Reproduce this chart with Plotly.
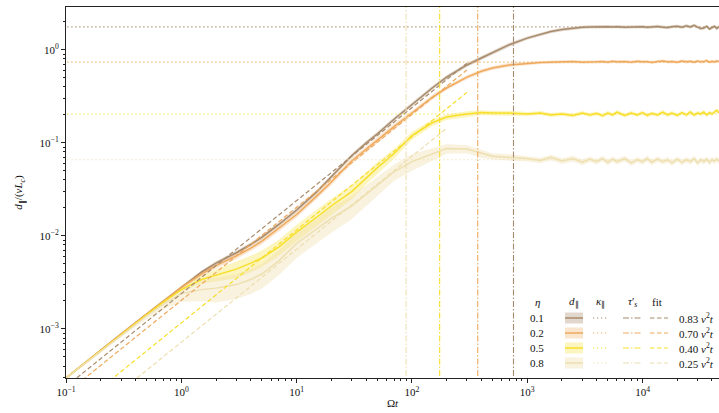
import plotly.graph_objects as go

# ---------------- data ----------------
t = [0.1, 0.15, 0.2, 0.3, 0.5, 0.7,
     1, 1.5, 2, 3, 4, 5, 7,
     10, 15, 20, 30, 40, 50, 70,
     100, 150, 200, 300, 400, 500, 700,
     1000, 1300, 1600, 2000, 2500, 3000, 3500, 4000, 4500,
     5000, 5500, 6000, 7000, 8000, 9000,
     10000, 11000, 12000, 13500, 15000, 16500, 18000,
     20000, 22000, 24000, 26000, 28000, 30000, 32000, 34000, 36000, 38000, 40000, 42000, 44000, 46000]

eta_labels = ["0.1", "0.2", "0.5", "0.8"]

d_eta01 = [2.97e-4, 4.4e-4, 5.9e-4, 8.8e-4, 1.45e-3, 2.0e-3,
           2.83e-3, 4.1e-3, 5.1e-3, 6.6e-3, 8.1e-3, 9.7e-3, 1.33e-2,
           1.9e-2, 3.0e-2, 4.3e-2, 7.3e-2, 0.10, 0.125, 0.18,
           0.26, 0.39, 0.51, 0.69, 0.82, 0.94, 1.14,
           1.34, 1.48, 1.58, 1.66, 1.72, 1.75, 1.77, 1.78, 1.77,
           1.78, 1.77, 1.78, 1.76, 1.77, 1.76,
           1.78, 1.75, 1.77, 1.79, 1.76, 1.74, 1.78,
           1.80, 1.76, 1.82, 1.77, 1.84, 1.76, 1.70, 1.72, 1.80, 1.68, 1.76, 1.80, 1.70, 1.78]
d_eta02 = [2.97e-4, 4.4e-4, 5.9e-4, 8.8e-4, 1.45e-3, 2.0e-3,
           2.8e-3, 3.9e-3, 4.8e-3, 6.1e-3, 7.4e-3, 8.8e-3, 1.2e-2,
           1.7e-2, 2.7e-2, 3.8e-2, 6.4e-2, 0.086, 0.106, 0.15,
           0.21, 0.31, 0.39, 0.51, 0.59, 0.64, 0.69,
           0.72, 0.735, 0.74, 0.745, 0.75, 0.74, 0.75, 0.745, 0.75,
           0.74, 0.755, 0.745, 0.75, 0.74, 0.755,
           0.745, 0.75, 0.735, 0.75, 0.76, 0.745, 0.75,
           0.74, 0.76, 0.745, 0.755, 0.74, 0.76, 0.745, 0.75, 0.77, 0.74, 0.755, 0.745, 0.76, 0.75]
d_eta05 = [2.97e-4, 4.4e-4, 5.9e-4, 8.8e-4, 1.42e-3, 1.95e-3,
           2.65e-3, 3.4e-3, 3.8e-3, 4.4e-3, 5.1e-3, 5.8e-3, 7.6e-3,
           1.1e-2, 1.6e-2, 2.1e-2, 3.0e-2, 4.2e-2, 5.4e-2, 0.077,
           0.12, 0.165, 0.19, 0.205, 0.212, 0.21, 0.21,
           0.205, 0.21, 0.20, 0.205, 0.198, 0.21, 0.20, 0.208, 0.196,
           0.21, 0.20, 0.215, 0.198, 0.21, 0.20,
           0.212, 0.198, 0.208, 0.20, 0.215, 0.20, 0.21,
           0.198, 0.212, 0.20, 0.215, 0.20, 0.21, 0.205, 0.215, 0.20, 0.212, 0.205, 0.215, 0.225, 0.21]
d_eta08 = [2.97e-4, 4.4e-4, 5.8e-4, 8.6e-4, 1.38e-3, 1.85e-3,
           2.4e-3, 2.65e-3, 2.75e-3, 3.0e-3, 3.4e-3, 3.9e-3, 5.4e-3,
           8.3e-3, 1.2e-2, 1.55e-2, 2.1e-2, 2.8e-2, 3.5e-2, 0.049,
           0.063, 0.076, 0.087, 0.086, 0.077, 0.072, 0.070,
           0.068, 0.065, 0.070, 0.064, 0.068, 0.062, 0.067, 0.063, 0.068,
           0.062, 0.067, 0.063, 0.068, 0.061, 0.066,
           0.063, 0.068, 0.062, 0.067, 0.063, 0.066, 0.061,
           0.067, 0.062, 0.066, 0.063, 0.068, 0.061, 0.066, 0.063, 0.067, 0.062, 0.066, 0.064, 0.067, 0.064]

# relative half-width of the shaded band
band_eta01 = [0.02, 0.02, 0.02, 0.02, 0.02, 0.02,
              0.03, 0.04, 0.05, 0.05, 0.05, 0.05, 0.05,
              0.05, 0.05, 0.05, 0.05, 0.05, 0.05, 0.05,
              0.05, 0.05, 0.05, 0.05, 0.05, 0.05, 0.05,
              0.04, 0.04, 0.04, 0.04, 0.04, 0.04, 0.04, 0.04, 0.04,
              0.04, 0.04, 0.04, 0.04, 0.04, 0.04,
              0.04, 0.04, 0.04, 0.04, 0.04, 0.04, 0.04,
              0.04, 0.04, 0.04, 0.04, 0.04, 0.04, 0.04, 0.04, 0.04, 0.04, 0.04, 0.04, 0.04, 0.04]
band_eta02 = [0.02, 0.02, 0.02, 0.02, 0.02, 0.02,
              0.04, 0.06, 0.07, 0.07, 0.07, 0.07, 0.07,
              0.07, 0.07, 0.07, 0.07, 0.07, 0.07, 0.07,
              0.06, 0.06, 0.05, 0.05, 0.05, 0.05, 0.05,
              0.04, 0.04, 0.04, 0.04, 0.04, 0.04, 0.04, 0.04, 0.04,
              0.04, 0.04, 0.04, 0.04, 0.04, 0.04,
              0.04, 0.04, 0.04, 0.04, 0.04, 0.04, 0.04,
              0.04, 0.04, 0.04, 0.04, 0.04, 0.04, 0.04, 0.04, 0.04, 0.04, 0.04, 0.04, 0.04, 0.04]
band_eta05 = [0.02, 0.02, 0.02, 0.02, 0.02, 0.03,
              0.05, 0.10, 0.15, 0.20, 0.20, 0.20, 0.20,
              0.20, 0.20, 0.20, 0.18, 0.15, 0.15, 0.12,
              0.10, 0.08, 0.07, 0.07, 0.06, 0.06, 0.06,
              0.05, 0.05, 0.05, 0.05, 0.05, 0.05, 0.05, 0.05, 0.05,
              0.05, 0.05, 0.05, 0.05, 0.05, 0.05,
              0.05, 0.05, 0.05, 0.05, 0.05, 0.05, 0.05,
              0.05, 0.05, 0.05, 0.05, 0.05, 0.05, 0.05, 0.05, 0.05, 0.05, 0.05, 0.05, 0.05, 0.05]
band_eta08 = [0.03, 0.03, 0.04, 0.05, 0.08, 0.12,
              0.18, 0.25, 0.30, 0.30, 0.30, 0.30, 0.30,
              0.30, 0.30, 0.30, 0.28, 0.25, 0.22, 0.20,
              0.20, 0.15, 0.12, 0.10, 0.10, 0.08, 0.08,
              0.07, 0.07, 0.07, 0.07, 0.07, 0.07, 0.07, 0.07, 0.07,
              0.07, 0.07, 0.07, 0.07, 0.07, 0.07,
              0.07, 0.07, 0.07, 0.07, 0.07, 0.07, 0.07,
              0.07, 0.07, 0.07, 0.07, 0.07, 0.07, 0.07, 0.07, 0.07, 0.07, 0.07, 0.07, 0.07, 0.07]

kappa = [1.77, 0.74, 0.205, 0.066]          # horizontal dotted lines
tau_s = [760, 372, 174, 89]                 # vertical dash-dot lines
fit_coef_labels = ["0.83", "0.70", "0.40", "0.25"]
fit_t_start = [0.1, 0.1, 0.1, 0.1]
fit_d_start = [2.40e-4, 2.03e-4, 1.16e-4, 7.2e-5]
fit_t_end = [300, 300, 300, 200]
fit_d_end = [0.72, 0.61, 0.35, 0.144]

colors = ["#a88b6c", "#efa95c", "#f7df2b", "#eedfb0"]
fills = ["rgba(168,139,108,0.35)", "rgba(239,169,92,0.30)",
         "rgba(247,223,43,0.30)", "rgba(238,223,176,0.40)"]

curves = [d_eta01, d_eta02, d_eta05, d_eta08]
bands = [band_eta01, band_eta02, band_eta05, band_eta08]

FONT = "Liberation Serif"
X_LO, X_HI = -1.0, 4.663      # log10 range
Y_LO, Y_HI = -3.527, 0.462

fig = go.Figure()

# shaded bands + mean curves
for d, b, c, f in zip(curves, bands, colors, fills):
    lo = [v * (1 - r) for v, r in zip(d, b)]
    hi = [v * (1 + r) for v, r in zip(d, b)]
    fig.add_trace(go.Scatter(x=t, y=lo, mode="lines", line=dict(width=0),
                             hoverinfo="skip", showlegend=False))
    fig.add_trace(go.Scatter(x=t, y=hi, mode="lines", line=dict(width=0),
                             fill="tonexty", fillcolor=f, hoverinfo="skip", showlegend=False))
for d, c in zip(curves, colors):
    fig.add_trace(go.Scatter(x=t, y=d, mode="lines", line=dict(color=c, width=1.5),
                             showlegend=False))

# fits (dashed)
for i, c in enumerate(colors):
    fig.add_trace(go.Scatter(x=[fit_t_start[i], fit_t_end[i]], y=[fit_d_start[i], fit_d_end[i]],
                             mode="lines", line=dict(color=c, width=1.2, dash="4.5px,2.5px"),
                             showlegend=False))

# kappa (dotted horizontal)
for k, c in zip(kappa, colors):
    fig.add_trace(go.Scatter(x=[0.05, 1e5], y=[k, k], mode="lines",
                             line=dict(color=c, width=1.2, dash="1.2px,2.8px"), showlegend=False))

# tau (dash-dot vertical)
for ts, c in zip(tau_s, colors):
    fig.add_trace(go.Scatter(x=[ts, ts], y=[1e-4, 10], mode="lines",
                             line=dict(color=c, width=1.1, dash="6px,2px,1.5px,2px"), showlegend=False))

# ---------------- axes ----------------
x_major = [0.1, 1, 10, 100, 1000, 10000]
x_text = ["10<sup>−1</sup>", "10<sup>0</sup>", "10<sup>1</sup>", "10<sup>2</sup>",
          "10<sup>3</sup>", "10<sup>4</sup>"]
y_major = [1e-3, 1e-2, 1e-1, 1]
y_text = ["10<sup>−3</sup>", "10<sup>−2</sup>", "10<sup>−1</sup>", "10<sup>0</sup>"]
x_minor = [m * 10 ** e for e in range(-1, 5) for m in range(2, 10)]
y_minor = [m * 10 ** e for e in range(-4, 1) for m in range(2, 10)]

axis_common = dict(showgrid=False, zeroline=False, showline=True, linecolor="#222",
                   linewidth=1, ticks="outside", ticklen=4, tickwidth=1, tickcolor="#222",
                   automargin=False,
                   tickfont=dict(family=FONT, size=11, color="#111"))

fig.update_xaxes(type="log", range=[X_LO, X_HI], tickmode="array", tickvals=x_major,
                 ticktext=x_text, mirror=True,
                 minor=dict(tickmode="array", tickvals=x_minor, ticks="outside", ticklen=2,
                            tickwidth=0.8, tickcolor="#222"),
                 title=dict(text="Ω<i>t</i>", font=dict(family=FONT, size=11, color="#111"),
                            standoff=2),
                 **axis_common)
fig.update_yaxes(type="log", range=[Y_LO, Y_HI], tickmode="array", tickvals=y_major,
                 ticktext=y_text,
                 minor=dict(tickmode="array", tickvals=y_minor, ticks="outside", ticklen=2,
                            tickwidth=0.8, tickcolor="#222"),
                 title=dict(text="<i>d</i><sub>∥</sub>/(<i>vL</i><sub><i>c</i></sub>)",
                            font=dict(family=FONT, size=11, color="#111"), standoff=14),
                 **axis_common)

# ---------------- legend table (bottom right) ----------------
PX0, PX1, PY0, PY1 = 66, 719, 7, 378
def px(x):
    return (x - PX0) / (PX1 - PX0)
def py(y):
    return (PY1 - y) / (PY1 - PY0)

shapes = []
annots = []
small = dict(family=FONT, size=11, color="#111")
headers = [(537, "<i>η</i>"), (574, "<i>d</i><sub>∥</sub>"), (600, "<i>κ</i><sub>∥</sub>"),
           (632, "<i>τ</i>′<sub><i>s</i></sub>"), (657, "fit")]
for hx, htxt in headers:
    annots.append(dict(x=px(hx), y=py(302), xref="paper", yref="paper", text=htxt,
                       showarrow=False, font=small, xanchor="center", yanchor="middle"))
row_y = [318, 333, 348, 363]
for i, ry in enumerate(row_y):
    c = colors[i]
    annots.append(dict(x=px(537), y=py(ry), xref="paper", yref="paper", text=eta_labels[i],
                       showarrow=False, font=small, xanchor="center", yanchor="middle"))
    shapes.append(dict(type="rect", xref="paper", yref="paper", x0=px(565), x1=px(583),
                       y0=py(ry - 5.5), y1=py(ry + 5.5), fillcolor=fills[i], line=dict(width=0)))
    shapes.append(dict(type="line", xref="paper", yref="paper", x0=px(565), x1=px(583),
                       y0=py(ry), y1=py(ry), line=dict(color=c, width=1.5)))
    shapes.append(dict(type="line", xref="paper", yref="paper", x0=px(593), x1=px(608),
                       y0=py(ry), y1=py(ry), line=dict(color=c, width=1.2, dash="1.2px,2.8px")))
    shapes.append(dict(type="line", xref="paper", yref="paper", x0=px(623), x1=px(642),
                       y0=py(ry), y1=py(ry), line=dict(color=c, width=1.2, dash="6px,2px,1.5px,2px")))
    shapes.append(dict(type="line", xref="paper", yref="paper", x0=px(650), x1=px(668),
                       y0=py(ry), y1=py(ry), line=dict(color=c, width=1.2, dash="4.5px,2.5px")))
    annots.append(dict(x=px(677), y=py(ry), xref="paper", yref="paper",
                       text=fit_coef_labels[i] + " <i>v</i><sup>2</sup><i>t</i>",
                       showarrow=False, font=small, xanchor="left", yanchor="middle"))

fig.update_layout(width=719, height=413, margin=dict(l=66, r=0, t=7, b=35, autoexpand=False),
                  paper_bgcolor="white", plot_bgcolor="white", showlegend=False,
                  shapes=shapes, annotations=annots,
                  font=dict(family=FONT, size=11, color="#111"))

fig.write_html("out.html", config={"displayModeBar": False},
               post_script="document.body.style.margin='0px';")
